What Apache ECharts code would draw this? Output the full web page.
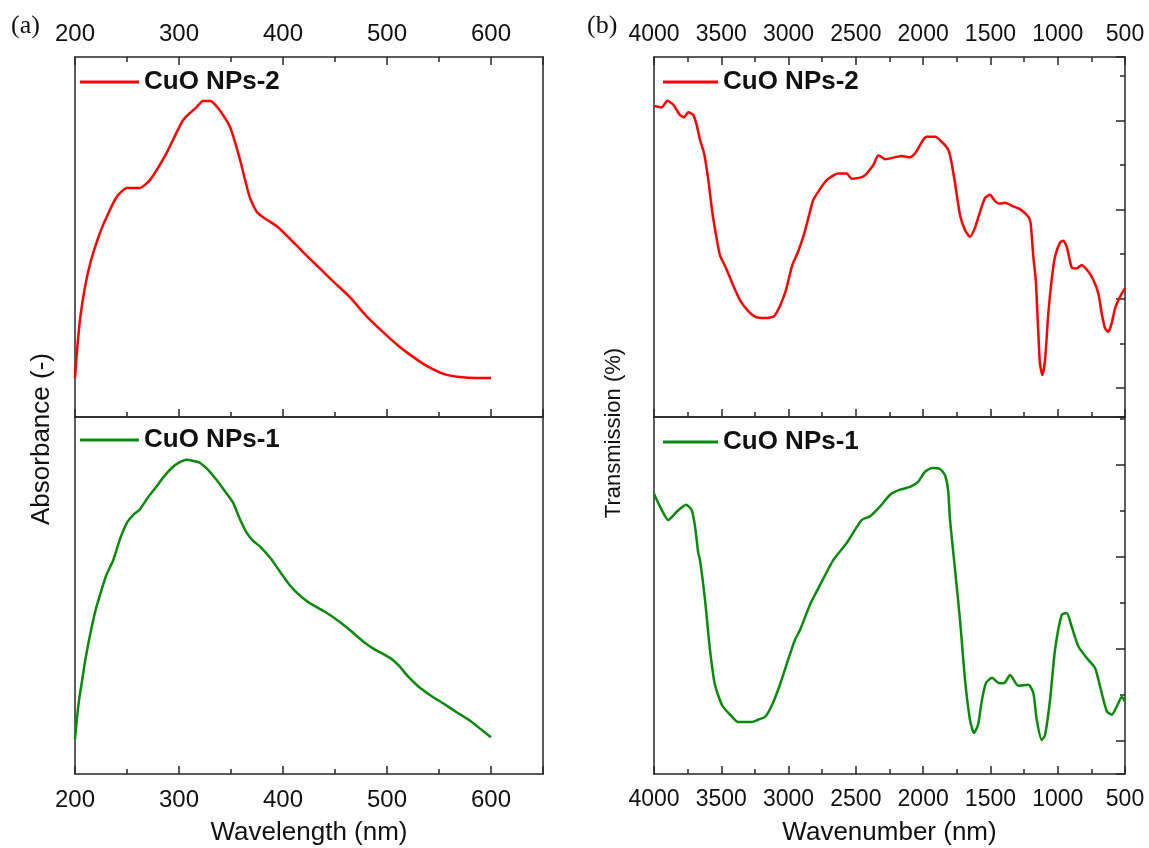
<!DOCTYPE html>
<html>
<head>
<meta charset="utf-8">
<script src="https://cdn.jsdelivr.net/npm/echarts@6/dist/echarts.min.js"></script>
<style>
  html, body { margin: 0; padding: 0; background: #fff; }
  #chart { width: 1149px; height: 848px; }
</style>
</head>
<body>
<div id="chart"></div>
<script>
// ---- UV-Vis absorbance (normalised, a.u.) ----
const uvWavelengthNps2 = [200,202,205,210,215,220,225,230,240,250,262,272,288,304,317,323,330,339,349,358,368,375,385,395,405,420,435,450,465,480,495,510,525,540,555,570,585,600];
const uvAbsNps2 = [0.108,0.186,0.275,0.367,0.431,0.478,0.519,0.553,0.611,0.636,0.636,0.658,0.733,0.825,0.861,0.878,0.878,0.853,0.806,0.722,0.611,0.569,0.547,0.528,0.500,0.456,0.414,0.372,0.331,0.281,0.239,0.200,0.167,0.139,0.119,0.111,0.108,0.108];

const uvWavelengthNps1 = [200,202,204,207,210,215,220,225,230,237,243,250,256,262,270,278,286,294,300,307,314,320,328,336,344,352,358,365,371,378,389,397,406,415,425,440,454,466,478,488,497,505,512,520,531,543,555,567,579,590,600];
const uvAbsNps1 = [0.098,0.159,0.209,0.265,0.321,0.397,0.461,0.511,0.556,0.601,0.656,0.704,0.726,0.740,0.774,0.804,0.835,0.860,0.872,0.880,0.877,0.872,0.852,0.824,0.793,0.760,0.718,0.676,0.654,0.637,0.601,0.567,0.531,0.503,0.480,0.455,0.427,0.399,0.369,0.349,0.335,0.321,0.302,0.274,0.243,0.218,0.196,0.173,0.151,0.126,0.103];

// ---- FT-IR transmission (%) ----
const irWavenumberNps2 = [4000,3943,3901,3857,3807,3777,3745,3708,3683,3658,3628,3596,3569,3539,3510,3465,3413,3361,3301,3242,3168,3108,3064,3019,2974,2930,2885,2841,2816,2717,2630,2568,2531,2445,2370,2333,2283,2159,2098,2060,2000,1973,1912,1862,1813,1788,1763,1726,1689,1652,1615,1577,1540,1503,1466,1429,1392,1330,1280,1218,1201,1181,1163,1144,1132,1114,1094,1070,1045,1020,983,958,933,896,859,822,772,735,698,673,648,624,599,573,536,500];
const irTransNps2 = [83.2,82.9,84.4,83.5,81.2,80.7,81.8,81.2,79.0,75.6,72.6,66.6,59.9,54.3,49.8,46.9,43.1,39.7,37.3,35.9,35.7,36.1,38.4,42.0,47.4,50.5,54.5,59.5,62.2,66.6,68.1,68.1,66.9,67.4,70.0,72.2,71.3,72.0,71.7,72.6,75.6,76.3,76.3,75.2,73.4,70.4,65.9,58.8,55.4,53.9,55.9,59.5,62.6,63.3,61.9,61.3,61.5,60.7,60.1,58.4,56.9,49.4,44.2,32.3,25.5,22.9,26.3,36.7,44.2,49.4,52.6,53.0,51.7,47.0,46.8,47.6,46.1,44.2,41.2,36.7,33.4,32.6,34.5,37.9,40.5,42.4];

const irWavenumberNps1 = [4000,3955,3894,3831,3762,3720,3695,3671,3658,3621,3584,3547,3495,3435,3376,3324,3272,3227,3175,3123,3064,3004,2952,2915,2841,2766,2668,2568,2457,2395,2321,2246,2172,2098,2038,1986,1934,1875,1838,1815,1800,1763,1726,1689,1652,1622,1592,1563,1533,1488,1451,1429,1392,1354,1293,1218,1181,1156,1119,1094,1057,1020,970,933,896,846,784,722,685,635,598,561,524,500];
const irTransNps1 = [73.7,70.9,68.0,69.8,71.3,70.2,66.6,60.8,59.3,50.7,39.8,32.2,27.8,25.7,24.1,24.1,24.1,24.6,25.2,27.8,32.2,37.6,42.0,44.1,49.6,53.9,59.3,63.0,68.0,68.8,70.9,73.5,74.6,75.2,76.3,78.5,79.3,79.1,77.8,74.6,68.0,57.2,46.3,33.3,24.6,21.7,23.5,28.9,32.6,33.7,32.8,32.5,32.7,34.3,32.0,32.2,30.4,24.6,20.2,21.3,28.9,39.8,47.4,47.8,44.8,40.5,38.0,35.8,31.8,26.4,25.7,27.5,29.6,28.5];

// ---- tick labels ----
const wavelengthTicks = [200, 300, 400, 500, 600];
const wavenumberTicks = [4000, 3500, 3000, 2500, 2000, 1500, 1000, 500];

const SANS = "'Liberation Sans', Arial, Helvetica, sans-serif";
const SERIF = "'Liberation Serif', 'Times New Roman', serif";
const AX = '#262626';
const RED = '#ff0000';
const GREEN = '#0a8a0a';

const uvScale = { min: 200, max: 650, interval: 100, inverse: false, ticks: wavelengthTicks, fontSize: 24 };
const irScale = { min: 500, max: 4000, interval: 500, inverse: true, ticks: wavenumberTicks, fontSize: 23 };

const pairs = (xs, ys) => xs.map((x, i) => [x, ys[i]]);

function xAxis(grid, position, scale, opt) {
  return {
    type: 'value', gridIndex: grid, position: position,
    min: scale.min, max: scale.max, interval: scale.interval, inverse: scale.inverse,
    axisLine: { show: true, onZero: false, lineStyle: { color: AX, width: 1.5 } },
    axisTick: { show: !!opt.ticks, inside: true, length: 8, lineStyle: { color: AX, width: 1.5 } },
    minorTick: { show: !!opt.ticks, splitNumber: 2, length: 5, lineStyle: { color: AX, width: 1.5 } },
    splitLine: { show: false }, minorSplitLine: { show: false },
    axisLabel: {
      show: !!opt.labels, margin: position === 'top' ? 11 : 14,
      color: '#111', fontFamily: SANS, fontSize: scale.fontSize,
      formatter: v => (scale.ticks.indexOf(v) >= 0 ? String(v) : '')
    },
    name: opt.name || '', nameLocation: 'middle', nameGap: 46,
    nameTextStyle: { fontFamily: SANS, fontSize: 26, color: '#111' }
  };
}

function yAxis(grid, position, range, ticks) {
  const a = {
    type: 'value', gridIndex: grid, position: position,
    min: range.min, max: range.max,
    axisLine: { show: true, onZero: false, lineStyle: { color: AX, width: 1.5 } },
    axisTick: { show: !!ticks, inside: true, length: 9, lineStyle: { color: AX, width: 1.5 } },
    minorTick: { show: !!ticks, splitNumber: 2, length: 5, lineStyle: { color: AX, width: 1.5 } },
    splitLine: { show: false }, minorSplitLine: { show: false },
    axisLabel: { show: false }
  };
  if (ticks) { a.minInterval = ticks; a.maxInterval = ticks; }
  return a;
}

const absRange = { min: 0, max: 1 };
const irTopRange = { min: 13.5, max: 94.2 };
const irBottomRange = { min: 12.8, max: 90.4 };

function lineSeries(name, color, xi, yi, data) {
  return {
    type: 'line', name: name, xAxisIndex: xi, yAxisIndex: yi, data: data,
    showSymbol: false, symbol: 'none', smooth: 0.2, silent: true,
    lineStyle: { color: color, width: 2.5 }, itemStyle: { color: color }
  };
}

function legend(name, left, top, width) {
  return {
    data: [name], left: left, top: top, padding: 0, selectedMode: false,
    icon: 'rect', itemWidth: width, itemHeight: 3, itemGap: 0,
    textStyle: { fontFamily: SANS, fontSize: 26, fontWeight: 'bold', color: '#111' }
  };
}

const option = {
  animation: false,
  backgroundColor: '#fff',
  grid: [
    { left: 75, top: 57, width: 468, height: 360 },
    { left: 75, top: 417, width: 468, height: 357 },
    { left: 654, top: 57, width: 471, height: 360 },
    { left: 654, top: 417, width: 471, height: 357 }
  ],
  xAxis: [
    xAxis(0, 'bottom', uvScale, { ticks: true }),
    xAxis(0, 'top', uvScale, { ticks: true, labels: true }),
    xAxis(1, 'bottom', uvScale, { ticks: true, labels: true, name: 'Wavelength (nm)' }),
    xAxis(1, 'top', uvScale, {}),
    xAxis(2, 'bottom', irScale, { ticks: true }),
    xAxis(2, 'top', irScale, { ticks: true, labels: true }),
    xAxis(3, 'bottom', irScale, { ticks: true, labels: true, name: 'Wavenumber (nm)' }),
    xAxis(3, 'top', irScale, {})
  ],
  yAxis: [
    yAxis(0, 'left', absRange),
    yAxis(0, 'right', absRange),
    yAxis(1, 'left', absRange),
    yAxis(1, 'right', absRange),
    yAxis(2, 'right', irTopRange, 20),
    yAxis(2, 'left', irTopRange),
    yAxis(3, 'right', irBottomRange, 20),
    yAxis(3, 'left', irBottomRange)
  ],
  legend: [
    legend('CuO NPs-2', 80, 69, 59),
    legend('CuO NPs-1', 80, 427, 59),
    legend('CuO NPs-2', 663, 69, 55),
    legend('CuO NPs-1', 663, 429, 55)
  ],
  series: [
    lineSeries('CuO NPs-2', RED, 0, 0, pairs(uvWavelengthNps2, uvAbsNps2)),
    lineSeries('CuO NPs-1', GREEN, 2, 2, pairs(uvWavelengthNps1, uvAbsNps1)),
    lineSeries('CuO NPs-2', RED, 4, 4, pairs(irWavenumberNps2, irTransNps2)),
    lineSeries('CuO NPs-1', GREEN, 6, 6, pairs(irWavenumberNps1, irTransNps1))
  ],
  graphic: [
    { type: 'text', left: 11, top: 13, style: { text: '(a)', font: '26px ' + SERIF, fill: '#111' } },
    { type: 'text', left: 587, top: 13, style: { text: '(b)', font: '26px ' + SERIF, fill: '#111' } },
    { type: 'text', x: 42, y: 439, rotation: Math.PI / 2,
      style: { text: 'Absorbance (-)', font: '26px ' + SANS, fill: '#111', align: 'center', verticalAlign: 'middle' } },
    { type: 'text', x: 614, y: 433, rotation: Math.PI / 2,
      style: { text: 'Transmission (%)', font: '22px ' + SANS, fill: '#111', align: 'center', verticalAlign: 'middle' } }
  ]
};

const chart = echarts.init(document.getElementById('chart'), null, { renderer: 'canvas' });
chart.setOption(option);
</script>
</body>
</html>
